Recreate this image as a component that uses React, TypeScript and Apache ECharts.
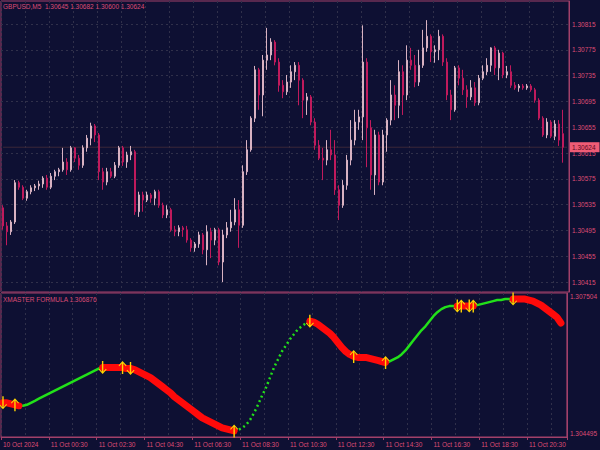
import React, { useEffect, useRef } from "react";
import * as echarts from "echarts";

// ---------- data ----------
const symbolName = "GBPUSD";
const timeframe = "M5";
const indicatorName = "XMASTER FORMULA";

const opens = [
  1.30530, 1.30502, 1.30493, 1.30508, 1.30569, 1.30562, 1.30545, 1.30555, 1.30561, 1.30564,
  1.30567, 1.30576, 1.30562, 1.30579, 1.30586, 1.30589, 1.30601, 1.30589, 1.30623, 1.30607,
  1.30596, 1.30623, 1.30638, 1.30657, 1.30643, 1.30586, 1.30570, 1.30586, 1.30579, 1.30596,
  1.30623, 1.30601, 1.30612, 1.30617, 1.30524, 1.30550, 1.30542, 1.30550, 1.30545, 1.30555,
  1.30534, 1.30519, 1.30527, 1.30496, 1.30493, 1.30499, 1.30496, 1.30480, 1.30468, 1.30474,
  1.30488, 1.30465, 1.30493, 1.30480, 1.30496, 1.30446, 1.30488, 1.30499, 1.30508, 1.30527,
  1.30503, 1.30586, 1.30620, 1.30669, 1.30744, 1.30705, 1.30759, 1.30767, 1.30787, 1.30756,
  1.30720, 1.30710, 1.30725, 1.30741, 1.30751, 1.30728, 1.30697, 1.30702, 1.30663, 1.30627,
  1.30607, 1.30604, 1.30620, 1.30612, 1.30558, 1.30534, 1.30565, 1.30604, 1.30635, 1.30663,
  1.30671, 1.30756, 1.30654, 1.30581, 1.30643, 1.30570, 1.30643, 1.30666, 1.30705, 1.30689,
  1.30741, 1.30705, 1.30759, 1.30751, 1.30725, 1.30751, 1.30778, 1.30796, 1.30772, 1.30775,
  1.30796, 1.30756, 1.30705, 1.30682, 1.30747, 1.30731, 1.30713, 1.30702, 1.30716, 1.30693,
  1.30731, 1.30741, 1.30751, 1.30778, 1.30747, 1.30770, 1.30736, 1.30741, 1.30720, 1.30716,
  1.30719, 1.30716, 1.30719, 1.30713, 1.30697, 1.30669, 1.30643, 1.30663, 1.30641, 1.30660,
  1.30645,
];
const closes = [
  1.30502, 1.30493, 1.30508, 1.30569, 1.30562, 1.30545, 1.30555, 1.30561, 1.30564, 1.30567,
  1.30576, 1.30562, 1.30579, 1.30586, 1.30589, 1.30601, 1.30589, 1.30623, 1.30607, 1.30596,
  1.30623, 1.30638, 1.30657, 1.30643, 1.30586, 1.30570, 1.30586, 1.30579, 1.30596, 1.30623,
  1.30601, 1.30612, 1.30617, 1.30524, 1.30550, 1.30542, 1.30550, 1.30545, 1.30555, 1.30534,
  1.30519, 1.30527, 1.30496, 1.30493, 1.30499, 1.30496, 1.30480, 1.30468, 1.30474, 1.30488,
  1.30465, 1.30493, 1.30480, 1.30496, 1.30446, 1.30488, 1.30499, 1.30508, 1.30527, 1.30503,
  1.30586, 1.30620, 1.30669, 1.30744, 1.30705, 1.30759, 1.30767, 1.30787, 1.30756, 1.30720,
  1.30710, 1.30725, 1.30741, 1.30751, 1.30728, 1.30697, 1.30702, 1.30663, 1.30627, 1.30607,
  1.30604, 1.30620, 1.30612, 1.30558, 1.30534, 1.30565, 1.30604, 1.30635, 1.30663, 1.30671,
  1.30756, 1.30654, 1.30581, 1.30643, 1.30570, 1.30643, 1.30666, 1.30705, 1.30689, 1.30741,
  1.30705, 1.30759, 1.30751, 1.30725, 1.30751, 1.30778, 1.30796, 1.30772, 1.30775, 1.30796,
  1.30756, 1.30705, 1.30682, 1.30747, 1.30731, 1.30713, 1.30702, 1.30716, 1.30693, 1.30731,
  1.30741, 1.30751, 1.30778, 1.30747, 1.30770, 1.30736, 1.30741, 1.30720, 1.30716, 1.30719,
  1.30716, 1.30719, 1.30713, 1.30697, 1.30669, 1.30643, 1.30663, 1.30641, 1.30660, 1.30635,
  1.30624,
];
const lows = [
  1.30496, 1.30472, 1.30488, 1.30505, 1.30558, 1.30542, 1.30541, 1.30551, 1.30556, 1.30558,
  1.30561, 1.30558, 1.30559, 1.30573, 1.30579, 1.30586, 1.30581, 1.30586, 1.30601, 1.30589,
  1.30592, 1.30617, 1.30627, 1.30632, 1.30573, 1.30558, 1.30565, 1.30576, 1.30576, 1.30592,
  1.30595, 1.30592, 1.30604, 1.30519, 1.30516, 1.30524, 1.30539, 1.30538, 1.30534, 1.30530,
  1.30514, 1.30514, 1.30493, 1.30486, 1.30486, 1.30485, 1.30476, 1.30462, 1.30462, 1.30468,
  1.30458, 1.30441, 1.30452, 1.30472, 1.30441, 1.30415, 1.30483, 1.30493, 1.30503, 1.30468,
  1.30499, 1.30581, 1.30617, 1.30663, 1.30682, 1.30672, 1.30744, 1.30759, 1.30751, 1.30710,
  1.30700, 1.30705, 1.30716, 1.30728, 1.30689, 1.30669, 1.30674, 1.30658, 1.30620, 1.30604,
  1.30573, 1.30596, 1.30604, 1.30550, 1.30511, 1.30530, 1.30558, 1.30596, 1.30627, 1.30651,
  1.30635, 1.30593, 1.30558, 1.30550, 1.30565, 1.30565, 1.30617, 1.30658, 1.30666, 1.30669,
  1.30674, 1.30697, 1.30744, 1.30717, 1.30719, 1.30747, 1.30772, 1.30756, 1.30755, 1.30759,
  1.30750, 1.30697, 1.30666, 1.30679, 1.30720, 1.30705, 1.30685, 1.30697, 1.30688, 1.30689,
  1.30728, 1.30736, 1.30741, 1.30736, 1.30728, 1.30731, 1.30731, 1.30716, 1.30713, 1.30710,
  1.30713, 1.30713, 1.30710, 1.30693, 1.30666, 1.30640, 1.30638, 1.30638, 1.30635, 1.30626,
  1.30600,
];
const highs = [
  1.30534, 1.30508, 1.30511, 1.30573, 1.30572, 1.30565, 1.30558, 1.30565, 1.30567, 1.30572,
  1.30579, 1.30581, 1.30584, 1.30589, 1.30592, 1.30623, 1.30607, 1.30626, 1.30624, 1.30612,
  1.30627, 1.30643, 1.30662, 1.30660, 1.30646, 1.30592, 1.30592, 1.30592, 1.30601, 1.30626,
  1.30626, 1.30617, 1.30626, 1.30620, 1.30555, 1.30555, 1.30555, 1.30553, 1.30558, 1.30558,
  1.30538, 1.30534, 1.30530, 1.30502, 1.30503, 1.30502, 1.30502, 1.30483, 1.30477, 1.30493,
  1.30491, 1.30503, 1.30499, 1.30499, 1.30499, 1.30496, 1.30508, 1.30527, 1.30545, 1.30542,
  1.30596, 1.30635, 1.30672, 1.30750, 1.30747, 1.30767, 1.30809, 1.30793, 1.30790, 1.30762,
  1.30728, 1.30736, 1.30751, 1.30756, 1.30756, 1.30731, 1.30708, 1.30705, 1.30669, 1.30635,
  1.30623, 1.30635, 1.30651, 1.30635, 1.30565, 1.30573, 1.30612, 1.30666, 1.30682, 1.30682,
  1.30813, 1.30762, 1.30666, 1.30651, 1.30648, 1.30651, 1.30669, 1.30728, 1.30720, 1.30759,
  1.30751, 1.30782, 1.30778, 1.30767, 1.30775, 1.30806, 1.30821, 1.30799, 1.30782, 1.30806,
  1.30799, 1.30762, 1.30713, 1.30750, 1.30751, 1.30744, 1.30720, 1.30728, 1.30725, 1.30736,
  1.30751, 1.30762, 1.30779, 1.30781, 1.30775, 1.30772, 1.30750, 1.30751, 1.30725, 1.30722,
  1.30722, 1.30722, 1.30722, 1.30716, 1.30700, 1.30672, 1.30669, 1.30666, 1.30666, 1.30666,
  1.30682,
];

const formula = [
  1.305210, 1.305210, 1.305189, 1.305168, 1.305147, 1.305147, 1.305168, 1.305210, 1.305252, 1.305295,
  1.305337, 1.305379, 1.305421, 1.305463, 1.305505, 1.305547, 1.305589, 1.305631, 1.305673, 1.305715,
  1.305757, 1.305799, 1.305842, 1.305884, 1.305926, 1.305947, 1.305947, 1.305947, 1.305947, 1.305947,
  1.305947, 1.305926, 1.305926, 1.305905, 1.305863, 1.305821, 1.305778, 1.305736, 1.305673, 1.305610,
  1.305547, 1.305484, 1.305421, 1.305337, 1.305273, 1.305210, 1.305147, 1.305084, 1.305021, 1.304958,
  1.304895, 1.304853, 1.304811, 1.304769, 1.304726, 1.304684, 1.304663, 1.304642, 1.304621, 1.304642,
  1.304684, 1.304747, 1.304853, 1.305000, 1.305168, 1.305358, 1.305526, 1.305736, 1.305947, 1.306115,
  1.306283, 1.306410, 1.306536, 1.306641, 1.306746, 1.306809, 1.306873, 1.306915, 1.306894, 1.306851,
  1.306788, 1.306725, 1.306662, 1.306578, 1.306473, 1.306368, 1.306283, 1.306220, 1.306178, 1.306157,
  1.306157, 1.306157, 1.306136, 1.306115, 1.306094, 1.306073, 1.306052, 1.306073, 1.306115, 1.306157,
  1.306220, 1.306304, 1.306410, 1.306515, 1.306620, 1.306725, 1.306809, 1.306915, 1.307020, 1.307104,
  1.307167, 1.307209, 1.307230, 1.307230, 1.307230, 1.307230, 1.307230, 1.307230, 1.307230, 1.307251,
  1.307272, 1.307293, 1.307314, 1.307335, 1.307356, 1.307356, 1.307377, 1.307377, 1.307377, 1.307377,
  1.307377, 1.307377, 1.307356, 1.307335, 1.307293, 1.307251, 1.307188, 1.307125, 1.307062, 1.306999,
  1.306876,
];

// trend runs of the indicator: [fromBar, toBar, kind]
const trendRuns: [number, number, string][] = [
  [0, 4, "sell"], [4, 25, "buy"], [25, 58, "sell"], [58, 77, "rally"], [77, 96, "sell"],
  [96, 114, "buy"], [114, 118, "sell"], [118, 128, "buy"], [128, 140, "sell"],
];
const arrowUpBars = [3, 30, 58, 88, 96, 115, 118];
const arrowDownBars = [0, 25, 32, 77, 114, 117, 128];

const timeLabels = [
  "10 Oct 2024", "11 Oct 00:30", "11 Oct 02:30", "11 Oct 04:30", "11 Oct 06:30", "11 Oct 08:30",
  "11 Oct 10:30", "11 Oct 12:30", "11 Oct 14:30", "11 Oct 16:30", "11 Oct 18:30", "11 Oct 20:30",
];
const priceTicks = [1.30415, 1.30455, 1.30495, 1.30535, 1.30575, 1.30615, 1.30655, 1.30695, 1.30735, 1.30775, 1.30815];
const priceRange = [1.303995, 1.308507];
const formulaRange = [1.304495, 1.307504];

// ---------- style ----------
const BG = "#0e1033";
const FRAME = "#a2406a";
const TEXT = "#dd4c74";
const GRID = "#30304a";
const FONT = "Liberation Sans";
const FS = 6.5;

const ARROW_UP = "path://M3.3,13L3.3,2.4L0.7,5.2L0,4.5L4,0L8,4.5L7.3,5.2L4.7,2.4L4.7,13Z";
const ARROW_DOWN = "path://M3.3,0L3.3,10.6L0.7,7.8L0,8.5L4,13L8,8.5L7.3,7.8L4.7,10.6L4.7,0Z";

function buildOption() {
  const last = opens.length - 1;
  const slots = opens.length + 1;
  const cats = Array.from({ length: slots }, (_, i) => String(i));
  const candleData = opens.map((o, i) => [o, closes[i], lows[i], highs[i]]);
  const seg = (kind: string) => {
    const d: (number | null)[] = formula.map(() => null);
    trendRuns.forEach(([a, b, k]) => {
      if (k === kind) for (let i = a; i <= b; i++) d[i] = formula[i];
    });
    return d;
  };
  const splitLine = { show: true, interval: 5, lineStyle: { color: GRID, type: [2, 3] as any, width: 1 } };
  const lastClose = closes[last];
  const priceLine = cats.map(() => lastClose);

  return {
    animation: false,
    backgroundColor: BG,
    textStyle: { fontFamily: FONT },
    title: [
      {
        text: `${symbolName},${timeframe}  ${opens[last].toFixed(5)} ${highs[last].toFixed(5)} ${lows[last].toFixed(5)} ${closes[last].toFixed(5)}`,
        left: 3, top: 3, padding: 0,
        textStyle: { color: TEXT, fontSize: FS, fontWeight: "normal", fontFamily: FONT },
      },
      {
        text: `${indicatorName} ${formula[last].toFixed(6)}`,
        left: 3, top: 296, padding: 0,
        textStyle: { color: TEXT, fontSize: FS, fontWeight: "normal", fontFamily: FONT },
      },
    ],
    grid: [
      { left: 1, top: 1, width: 568, height: 291, show: true, borderColor: FRAME, borderWidth: 1, containLabel: false },
      { left: 1, top: 293, width: 568, height: 144, show: true, borderColor: FRAME, borderWidth: 1, containLabel: false },
    ],
    xAxis: [
      {
        type: "category", gridIndex: 0, data: cats, boundaryGap: true,
        axisLine: { show: false }, axisTick: { show: false }, axisLabel: { show: false },
        splitLine,
      },
      {
        type: "category", gridIndex: 1, data: cats, boundaryGap: true,
        axisLine: { show: true, lineStyle: { color: FRAME } },
        axisTick: { show: true, interval: 11, length: 3, lineStyle: { color: FRAME } },
        axisLabel: {
          interval: 11, align: "left", color: TEXT, fontSize: FS, fontFamily: FONT, margin: 4,
          formatter: (_v: string, idx: number) => timeLabels[idx / 12] ?? "",
        },
        splitLine,
      },
    ],
    yAxis: [
      {
        type: "value", gridIndex: 0, position: "right", min: priceRange[0], max: priceRange[1],
        axisLine: { show: true, lineStyle: { color: FRAME } },
        axisTick: { show: false, customValues: priceTicks },
        axisLabel: {
          customValues: priceTicks, color: TEXT, fontSize: FS, fontFamily: FONT, margin: 3,
          formatter: (v: number) => v.toFixed(5),
        },
        splitLine: { show: true, lineStyle: { color: GRID, type: [2, 3] as any, width: 1 } },
      },
      {
        type: "value", gridIndex: 1, position: "right", min: formulaRange[0], max: formulaRange[1],
        axisLine: { show: true, lineStyle: { color: FRAME } },
        axisTick: { show: false, customValues: formulaRange },
        axisLabel: {
          customValues: formulaRange, color: TEXT, fontSize: FS, fontFamily: FONT, margin: 3,
          verticalAlignMinLabel: "bottom", verticalAlignMaxLabel: "top",
          formatter: (v: number) => v.toFixed(6),
        },
        splitLine: { show: false },
      },
    ],
    series: [
      {
        // current price (bid) line with its label box on the price scale
        type: "line", xAxisIndex: 0, yAxisIndex: 0, data: priceLine, symbol: "none", silent: true,
        lineStyle: { color: "#3c2838", width: 1 },
        endLabel: {
          show: true, distance: 3, formatter: () => lastClose.toFixed(5),
          backgroundColor: "#ef5c76", color: "#5a0a22", fontSize: FS, fontFamily: FONT,
          padding: [2, 4, 1, 2],
        },
        z: 1,
      },
      {
        type: "candlestick", xAxisIndex: 0, yAxisIndex: 0, data: candleData, barWidth: 2,
        itemStyle: {
          color: "#ecccd6", color0: "#c01a5c",
          borderColor: "#d8b2c2", borderColor0: "#c01a5c", borderWidth: 1,
        },
        z: 3,
      },
      {
        type: "line", xAxisIndex: 1, yAxisIndex: 1, data: seg("buy"), symbol: "none", connectNulls: false,
        lineStyle: { color: "#22e01a", width: 2.5 }, silent: true,
      },
      {
        type: "line", xAxisIndex: 1, yAxisIndex: 1, data: seg("rally"), symbol: "none", connectNulls: false,
        lineStyle: { color: "#22e01a", width: 2.5, type: [2, 3] as any }, silent: true,
      },
      {
        type: "line", xAxisIndex: 1, yAxisIndex: 1, data: seg("sell"), symbol: "none", connectNulls: false,
        lineStyle: { color: "#ff0a0a", width: 7, cap: "round", join: "round" }, silent: true,
      },
      {
        type: "scatter", xAxisIndex: 1, yAxisIndex: 1, silent: true, z: 5,
        data: arrowUpBars.map((i) => [i, formula[i]]),
        symbol: ARROW_UP, symbolSize: [8, 13],
        itemStyle: { color: "#ffd400", opacity: 1 },
      },
      {
        type: "scatter", xAxisIndex: 1, yAxisIndex: 1, silent: true, z: 5,
        data: arrowDownBars.map((i) => [i, formula[i]]),
        symbol: ARROW_DOWN, symbolSize: [8, 13],
        itemStyle: { color: "#ffd400", opacity: 1 },
      },
    ],
  };
}

export default function App() {
  const ref = useRef<HTMLDivElement>(null);
  useEffect(() => {
    document.body.style.margin = "0";
    const chart = echarts.init(ref.current!, null, { renderer: "svg" });
    chart.setOption(buildOption() as any);
    return () => chart.dispose();
  }, []);
  return (
    <div
      ref={ref}
      style={{ position: "fixed", left: 0, top: 0, width: 600, height: 450, background: BG }}
    />
  );
}
